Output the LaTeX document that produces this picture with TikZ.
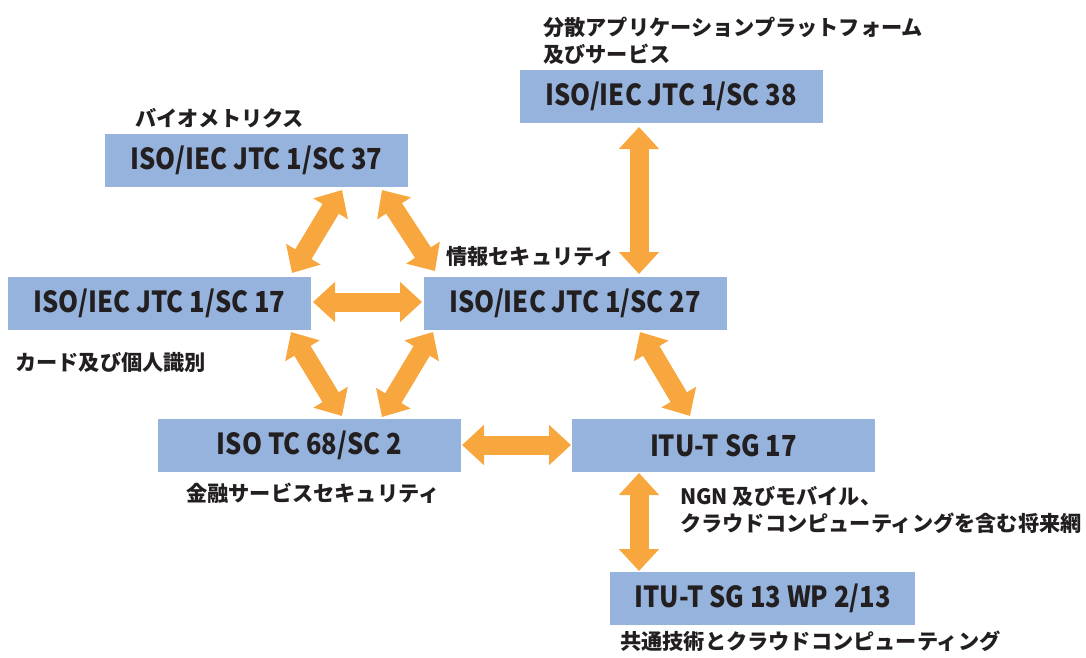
\documentclass[tikz,border=0pt]{standalone}
\usepackage{fontspec}
\setmainfont{Noto Sans CJK JP}
\newfontfamily\boxfont{Noto Sans CJK JP}[FakeStretch=0.88]
\usetikzlibrary{arrows.meta}
\definecolor{boxblue}{HTML}{95B3DC}
\definecolor{arrorange}{HTML}{F8A73F}
\definecolor{txt}{HTML}{231F20}
\tikzset{
  boxnode/.style={fill=boxblue, minimum width=303pt, minimum height=53pt, inner sep=0pt,
    text=txt, font=\boxfont\fontsize{29}{31}\selectfont\bfseries},
  lbl/.style={anchor=west, inner sep=0pt, text=txt, align=left,
    font=\fontsize{21.2}{27}\selectfont\bfseries},
  fatarrow/.style={draw=arrorange, line width=19pt,
    {Triangle[width=39pt,length=22pt,fill=arrorange]}-{Triangle[width=39pt,length=22pt,fill=arrorange]}}
}
\begin{document}
\begin{tikzpicture}[x=1pt,y=-1pt]
\useasboundingbox (0,0) rectangle (1086,657);
% boxes
\node[boxnode] (sc38) at (671,96.5) {ISO/IEC JTC 1/SC 38};
\node[boxnode] (sc37) at (256.5,160.5) {ISO/IEC JTC 1/SC 37};
\node[boxnode] (sc17) at (159.5,303.5) {ISO/IEC JTC 1/SC 17};
\node[boxnode] (sc27) at (575,303.5) {ISO/IEC JTC 1/SC 27};
\node[boxnode] (tc68) at (309.5,445.5) {ISO TC 68/SC 2};
\node[boxnode] (sg17) at (723.5,445.5) {ITU-T SG 17};
\node[boxnode, minimum width=305pt] (sg13) at (762.5,598.5) {ITU-T SG 13 WP 2/13};
% labels
\node[lbl] (l38) at (543,41) {分散アプリケーションプラットフォーム\\及びサービス};
\node[lbl] (l37) at (135,118) {バイオメトリクス};
\node[lbl] (l27) at (446,256) {情報セキュリティ};
\node[lbl] (l17) at (15,362) {カード及び個人識別};
\node[lbl] (l68) at (186,493) {金融サービスセキュリティ};
\node[lbl] (l17b) at (680,509.5) {NGN 及びモバイル、\\クラウドコンピューティングを含む将来網};
\node[lbl] (l13) at (620,641) {共通技術とクラウドコンピューティング};
% arrow end points
\coordinate (a1) at (342,190); \coordinate (b1) at (292,273);
\coordinate (a2) at (382,190); \coordinate (b2) at (435,271);
\coordinate (a3) at (313,302); \coordinate (b3) at (422,302);
\coordinate (a4) at (291,332); \coordinate (b4) at (342,416);
\coordinate (a5) at (433,332); \coordinate (b5) at (382,417);
\coordinate (a6) at (462,445); \coordinate (b6) at (571,445);
\coordinate (a7) at (639,127); \coordinate (b7) at (639,274);
\coordinate (a8) at (640,332); \coordinate (b8) at (690,416);
\coordinate (a9) at (639,473); \coordinate (b9) at (639,571);
\foreach \i in {1,...,9} { \draw[fatarrow] (a\i) -- (b\i); }
\end{tikzpicture}
\end{document}
